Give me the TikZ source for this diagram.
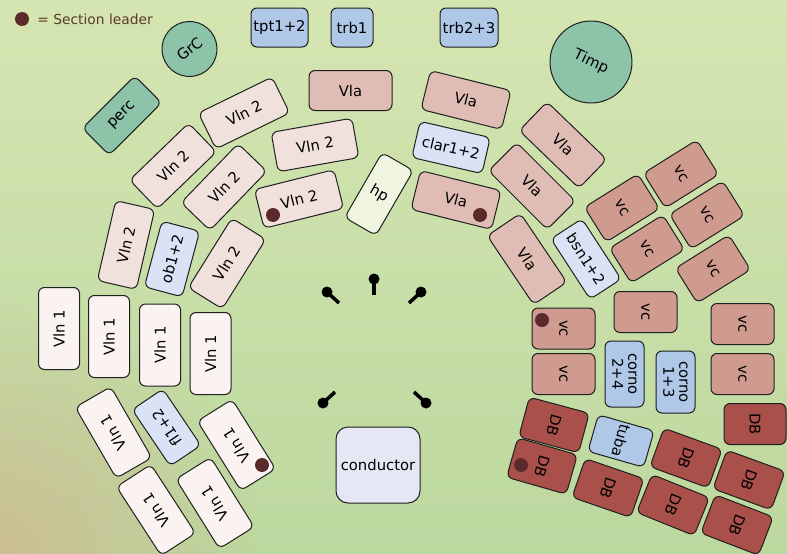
\documentclass[tikz,border=0pt]{standalone}
\usepackage{fontspec}
\setmainfont{DejaVu Sans}
\usetikzlibrary{fadings}
\tikzfading[name=tanfade, inner color=transparent!0, outer color=transparent!100]
\definecolor{bgtop}{HTML}{D5E5B1}
\definecolor{bgbot}{HTML}{BCD89F}
\definecolor{bgtan}{HTML}{CBBE93}
\definecolor{vlnIfill}{HTML}{FBF3F1}
\definecolor{vlnIIfill}{HTML}{F0E1DD}
\definecolor{vlafill}{HTML}{E0BDB4}
\definecolor{vcfill}{HTML}{CF9B8F}
\definecolor{dbfill}{HTML}{A9504B}
\definecolor{woodfill}{HTML}{D9E3F5}
\definecolor{brassfill}{HTML}{AFC8E8}
\definecolor{percfill}{HTML}{8DC3A8}
\definecolor{hpfill}{HTML}{F0F5E2}
\definecolor{condfill}{HTML}{E5E7F4}
\definecolor{leaderdot}{HTML}{5B2A2A}
\definecolor{legendtext}{HTML}{5B3A2B}
\tikzset{
  seat/.style   = {draw=black!88, line width=1pt, rounded corners=6pt,
                   inner sep=1pt, align=center, font=\fontsize{14.8}{16}\selectfont},
  vlnIbox/.style  = {seat, fill=vlnIfill, minimum width=82pt, minimum height=41pt},
  vlnIIbox/.style = {seat, fill=vlnIIfill, minimum width=82pt, minimum height=40pt},
  vlabox/.style   = {seat, fill=vlafill, minimum width=83pt, minimum height=40pt},
  vcbox/.style    = {seat, fill=vcfill, minimum width=41pt, minimum height=63pt},
  dbbox/.style    = {seat, fill=dbfill, minimum width=41pt, minimum height=62pt},
  woodbox/.style  = {seat, fill=woodfill, minimum width=70pt, minimum height=38pt},
  brassbox/.style = {seat, fill=brassfill, minimum height=39pt},
}

\begin{document}
\begin{tikzpicture}[
    x=1pt, y=-1pt,
    drum/.style   ={circle, draw=black!88, line width=1pt, fill=percfill,
                    inner sep=1pt, font=\fontsize{14.8}{16}\selectfont},
    leader/.style ={circle, fill=leaderdot, minimum size=14pt, inner sep=0pt},
    stand/.style  ={line width=3.5pt, draw=black}
  ]

  %% --- Stage background ------------------------------------------------
  \useasboundingbox (0,0) rectangle (787,554);
  \shade[top color=bgtop, bottom color=bgbot] (0,0) rectangle (787,554);
  \fill[bgtan, path fading=tanfade] (0,554) circle (260);

  %% --- Legend ----------------------------------------------------------
  \node[leader] (legdot) at (22,19) {};
  \node[anchor=west, inner sep=0pt, text=legendtext,
        font=\fontsize{13.8}{16}\selectfont] (legtext)
      at ([xshift=8pt]legdot.east) {= Section leader};

  %% --- Percussion and brass at the back --------------------------------
  \node[drum, minimum size=55pt, rotate=38] (grc) at (189.5,49) {GrC};
  \node[drum, minimum size=82pt, rotate=-25] (timp) at (591,62) {Timp};
  \node[seat, fill=percfill, minimum width=74pt, minimum height=38pt,
        rotate=45] (perc) at (122,115.5) {perc};
  \node[brassbox, minimum width=57pt] (tpt) at (279.5,27.5) {tpt1+2};
  \node[brassbox, minimum width=42pt] (trbI) at (352,27.5) {trb1};
  \node[brassbox, minimum width=58pt] (trbII) at (469,27.5) {trb2+3};

  %% --- First violins ---------------------------------------------------
  \node[vlnIbox, rotate=90] (vlnIa) at (59,328.5) {Vln 1};
  \node[vlnIbox, rotate=90] (vlnIb) at (109,336.5) {Vln 1};
  \node[vlnIbox, rotate=90] (vlnIc) at (160,345) {Vln 1};
  \node[vlnIbox, rotate=90] (vlnId) at (210.5,353.5) {Vln 1};
  \node[vlnIbox, rotate=120] (vlnIe) at (113.5,432.5) {Vln 1};
  \node[vlnIbox, rotate=122] (vlnIf) at (236.5,445) {Vln 1};
  \node[vlnIbox, rotate=123] (vlnIg) at (156,510) {Vln 1};
  \node[vlnIbox, rotate=122] (vlnIh) at (215,503) {Vln 1};
  \node[leader] (ldVlnI) at (262,465) {};
  \node[woodbox, minimum width=68pt, minimum height=37pt,
        rotate=124] (fl) at (166.5,427.5) {fl1+2};

  %% --- Second violins --------------------------------------------------
  \node[vlnIIbox, rotate=77] (vlnIIa) at (126,245) {Vln 2};
  \node[woodbox, minimum width=68pt, minimum height=39pt,
        rotate=75] (ob) at (172,259) {ob1+2};
  \node[vlnIIbox, rotate=58] (vlnIIb) at (227,263.5) {Vln 2};
  \node[vlnIIbox, rotate=44] (vlnIIc) at (173,166) {Vln 2};
  \node[vlnIIbox, rotate=46] (vlnIId) at (224,187) {Vln 2};
  \node[vlnIIbox, rotate=26] (vlnIIe) at (244,113) {Vln 2};
  \node[vlnIIbox, rotate=10] (vlnIIf) at (315,145) {Vln 2};
  \node[vlnIIbox, rotate=14] (vlnIIg) at (299,199) {Vln 2};
  \node[leader] (ldVlnII) at (273,215) {};

  %% --- Harp and violas -------------------------------------------------
  \node[seat, fill=hpfill, minimum width=36pt, minimum height=75pt,
        rotate=-30] (hp) at (379,194) {hp};
  \node[vlabox] (vlaA) at (350.5,90.5) {Vla};
  \node[vlabox, rotate=-14] (vlaB) at (466,100) {Vla};
  \node[woodbox, minimum width=72pt, minimum height=37pt,
        rotate=-13] (clar) at (451,147.5) {clar1+2};
  \node[vlabox, rotate=-14] (vlaC) at (456,200) {Vla};
  \node[leader] (ldVla) at (480,215) {};
  \node[vlabox, rotate=-44] (vlaD) at (563,145) {Vla};
  \node[vlabox, rotate=-45] (vlaE) at (532,186) {Vla};
  \node[vlabox, rotate=-56] (vlaF) at (527,259) {Vla};
  \node[woodbox, minimum width=72pt, minimum height=37pt,
        rotate=-57] (bsn) at (586,259) {bsn1+2};

  %% --- Cellos and horns ------------------------------------------------
  \node[vcbox, rotate=-58] (vcA) at (681,174) {vc};
  \node[vcbox, rotate=-58] (vcB) at (622,208) {vc};
  \node[vcbox, rotate=-58] (vcC) at (707,215) {vc};
  \node[vcbox, rotate=-58] (vcD) at (647,249) {vc};
  \node[vcbox, rotate=-58] (vcE) at (713,269) {vc};
  \node[vcbox, rotate=-90] (vcF) at (563.5,328.5) {vc};
  \node[leader] (ldVc) at (542,320) {};
  \node[vcbox, rotate=-90] (vcG) at (645.5,312) {vc};
  \node[vcbox, rotate=-90] (vcH) at (742.5,324) {vc};
  \node[vcbox, rotate=-90] (vcI) at (563.5,374) {vc};
  \node[vcbox, rotate=-90] (vcJ) at (742.5,374) {vc};
  \node[brassbox, minimum width=66pt, minimum height=39pt,
        rotate=-90] (cornoII) at (624.5,374) {corno\\2+4};
  \node[brassbox, minimum width=62pt, minimum height=39pt,
        rotate=-90] (cornoI) at (675.5,382) {corno\\1+3};

  %% --- Basses and tuba -------------------------------------------------
  \node[dbbox, rotate=-90] (dbA) at (755,424) {DB};
  \node[dbbox, rotate=-105] (dbB) at (554,425) {DB};
  \node[brassbox, minimum width=38pt, minimum height=58pt,
        rotate=-106] (tuba) at (621,441) {tuba};
  \node[dbbox, rotate=-106] (dbC) at (542,466) {DB};
  \node[leader] (ldDb) at (521,465) {};
  \node[dbbox, rotate=-109] (dbD) at (608,488) {DB};
  \node[dbbox, rotate=-110] (dbE) at (686,458) {DB};
  \node[dbbox, rotate=-112] (dbF) at (673,505) {DB};
  \node[dbbox, rotate=-110] (dbG) at (749,480) {DB};
  \node[dbbox, rotate=-111] (dbH) at (737,525) {DB};

  %% --- Conductor and soloist stands ------------------------------------
  \node[seat, fill=condfill, rounded corners=12pt, minimum width=84pt,
        minimum height=76pt] (cond) at (378,465) {conductor};
  \foreach \sx/\sy/\ex/\ey in {374/279/374/295, 327/292/339/303,
      421/292/409/303, 323/403/335/392, 426/403/414/392}{
    \draw[stand] (\sx,\sy) -- (\ex,\ey);
    \fill (\sx,\sy) circle (5.5);
  }
\end{tikzpicture}
\end{document}
